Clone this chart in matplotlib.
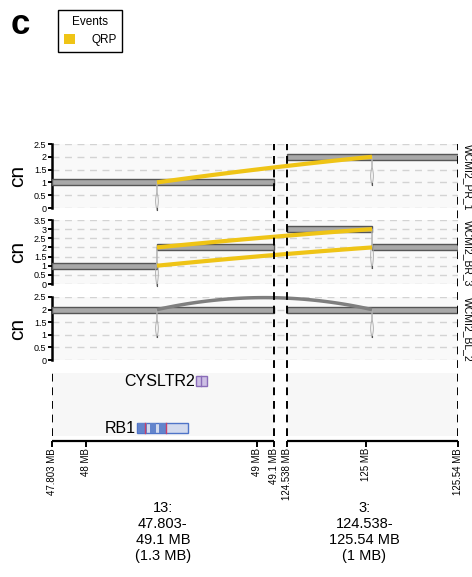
import matplotlib
matplotlib.use("Agg")
import matplotlib.pyplot as plt
from matplotlib.patches import Rectangle, Patch
import numpy as np

plt.rcParams['font.family'] = ['Liberation Sans', 'DejaVu Sans']

# windows (MB)
win_chrom = ['13', '3']
win_start = [47.803, 124.538]
win_end = [49.1, 125.54]
win_labels = ['13:\n47.803-\n49.1 MB\n(1.3 MB)', '3:\n124.538-\n125.54 MB\n(1 MB)']
GAP = 0.076

samples = ['WCMI2_PR_1', 'WCMI2_BR_3', 'WCMI2_BL_2']
ymax = [2.5, 3.5, 2.5]

# copy number segments: (chrom, start, end, cn)
segments = [
    [('13', 47.803, 49.1, 1), ('3', 124.538, 125.54, 2)],
    [('13', 47.803, 48.417, 1), ('13', 48.417, 49.1, 2),
     ('3', 124.538, 125.037, 3), ('3', 125.037, 125.54, 2)],
    [('13', 47.803, 49.1, 2), ('3', 124.538, 125.54, 2)],
]

bp1 = ('13', 48.417)
bp2 = ('3', 125.037)
# junctions: (cn at bp1, cn at bp2, event)
junctions = [
    [(1, 2, 'QRP')],
    [(2, 3, 'QRP'), (1, 2, 'QRP')],
    [(2, 2, None)],
]
# breakpoint stubs: (chrom, pos, top, bottom)
stubs = [
    [('13', 48.417, 1, -0.08), ('3', 125.037, 2, 0.9)],
    [('13', 48.417, 2, -0.1), ('3', 125.037, 3, 0.85)],
    [('13', 48.417, 2, 0.9), ('3', 125.037, 2, 0.9)],
]

genes = ['CYSLTR2', 'RB1']
gene_start = [48.646, 48.300]
gene_end = [48.710, 48.599]
gene_row = [1, 0]

xticks_pos = [('13', 47.803), ('13', 48.0), ('13', 49.0), ('13', 49.1),
              ('3', 124.538), ('3', 125.0), ('3', 125.54)]
xticks_lab = ['47.803 MB', '48 MB', '49 MB', '49.1 MB', '124.538 MB', '125 MB', '125.54 MB']

yellow = '#efc416'


def gx(chrom, pos):
    if chrom == win_chrom[0]:
        return pos
    return pos - win_start[1] + win_end[0] + GAP


XMIN = gx('13', win_start[0])
XMAX = gx('3', win_end[1])


def bezier(x0, y0, x1, y1, bump):
    t = np.linspace(0, 1, 100)
    cx, cy = (x0 + x1) / 2, (y0 + y1) / 2 + bump
    x = (1 - t) ** 2 * x0 + 2 * t * (1 - t) * cx + t ** 2 * x1
    y = (1 - t) ** 2 * y0 + 2 * t * (1 - t) * cy + t ** 2 * y1
    return x, y


W, H = 472, 577
fig = plt.figure(figsize=(W / 100, H / 100), dpi=100)


def rect(top, bottom):
    return [52 / W, 1 - bottom / H, 406 / W, (bottom - top) / H]


panel_px = [(144, 208), (220, 284), (297, 360)]
axes = []
for i, s in enumerate(samples):
    ax = fig.add_axes(rect(*panel_px[i]))
    axes.append(ax)
    ax.set_facecolor('#f9f9f9')
    ax.set_xlim(XMIN, XMAX)
    ax.set_ylim(0, ymax[i])
    yt = np.arange(0, ymax[i] + 0.01, 0.5)
    ax.set_yticks(yt)
    ax.set_yticklabels(['%g' % v for v in yt], fontsize=6.5)
    for v in yt:
        ax.axhline(v, color='#d3d3d3', lw=1, ls=(0, (5, 4)), zorder=0)
    ax.set_xticks([])
    for sp in ['top', 'right', 'bottom']:
        ax.spines[sp].set_visible(False)
    ax.spines['left'].set_linewidth(1.8)
    ax.tick_params(axis='y', length=3, width=1.4, pad=1)
    ax.set_ylabel('cn', fontsize=15, labelpad=5)
    pxu = (panel_px[i][1] - panel_px[i][0]) / ymax[i]
    bh = 6 / pxu
    for chrom, a, b, cn in segments[i]:
        ax.add_patch(Rectangle((gx(chrom, a), cn - bh / 2), gx(chrom, b) - gx(chrom, a), bh,
                               facecolor='#a8a8a8', edgecolor='#555555', lw=1, zorder=3))
    for chrom, p, top, bot in stubs[i]:
        x = gx(chrom, p)
        t = np.linspace(0, 1, 60)
        s_ = np.clip((t - 0.35) / 0.65, 0, 1)
        w = 0.008 * np.sin(np.pi * s_)
        yy = top + (bot - top) * t
        ax.plot(x + w, yy, color='#b0b0b0', lw=0.7, zorder=4, clip_on=False)
        ax.plot(x - w, yy, color='#b0b0b0', lw=0.7, zorder=4, clip_on=False)
        ax.plot([x, x], [bot + 0.06 * (top - bot), bot], color='#555555', lw=0.8, zorder=4, clip_on=False)
    for c1, c2, ev in junctions[i]:
        x0, x1 = gx(*bp1), gx(*bp2)
        if ev == 'QRP':
            xs, ys = bezier(x0, c1, x1, c2, 0.08)
            ax.plot(xs, ys, color=yellow, lw=3, solid_capstyle='butt', zorder=5, clip_on=False)
        else:
            xs, ys = bezier(x0, c1, x1, c2, 0.95)
            ax.plot(xs, ys, color='#7f7f7f', lw=2.5, solid_capstyle='butt', zorder=5, clip_on=False)
    fig.text(463 / W, 1 - panel_px[i][0] / H, s, rotation=270, ha='left', va='top', fontsize=7.5)

# gene track
gax = fig.add_axes(rect(373, 441))
gax.set_xlim(XMIN, XMAX)
gax.set_ylim(0, 1)
gax.patch.set_visible(False)
for sp in ['top', 'right', 'left', 'bottom']:
    gax.spines[sp].set_visible(False)
gax.set_yticks([])
for k in range(2):
    a, b = gx(win_chrom[k], win_start[k]), gx(win_chrom[k], win_end[k])
    gax.add_patch(Rectangle((a, 0.08), b - a, 0.92, facecolor='#f7f7f7', edgecolor='none', zorder=0))
    gax.plot([a, b], [0, 0], color='black', lw=1.6, clip_on=False, solid_capstyle='butt')
gene_y = [0.19, 0.88]
for name, a, b, r in zip(genes, gene_start, gene_end, gene_row):
    y = gene_y[r]
    h = 0.14
    if name == 'RB1':
        gax.add_patch(Rectangle((a, y - h / 2), b - a, h, facecolor='#d2daee', edgecolor='#4f74c8', lw=1, zorder=3))
        for ea, eb in [(a + 0.005, a + 0.06), (a + 0.075, a + 0.11), (a + 0.13, a + 0.175)]:
            gax.add_patch(Rectangle((ea, y - h / 2), eb - ea, h, facecolor='#6384cc', edgecolor='none', zorder=4))
        for xr in [a + 0.045, a + 0.17]:
            gax.plot([xr, xr], [y - h / 2, y + h / 2], color='#c8406a', lw=1, zorder=5)
    else:
        gax.add_patch(Rectangle((a, y - h / 2), b - a, h, facecolor='#cdbfe4', edgecolor='#8a6cb8', lw=1, zorder=3))
        gax.plot([a + 0.03, a + 0.03], [y - h / 2, y + h / 2], color='#8a6cb8', lw=1, zorder=4)
    gax.text(a - 0.008, y, name, ha='right', va='center', fontsize=11.5)

gax.set_xticks([gx(c, p) for c, p in xticks_pos])
gax.set_xticklabels(xticks_lab, rotation=90, fontsize=7)
gax.tick_params(axis='x', length=4, width=1.4, pad=1)

label_shift = [0, -8]
for k in range(2):
    mid = (gx(win_chrom[k], win_start[k]) + gx(win_chrom[k], win_end[k])) / 2
    mid += label_shift[k] / (406 / (XMAX - XMIN))
    gax.text(mid, -0.88, win_labels[k], ha='center', va='top', fontsize=10.5,
             transform=gax.transData, linespacing=1.2)

# window boundary lines across all tracks
over = fig.add_axes([52 / W, 1 - 436 / H, 406 / W, (436 - 144) / H])
over.set_xlim(XMIN, XMAX)
over.set_ylim(0, 1)
over.axis('off')
for xv in [gx('13', win_end[0]), gx('3', win_start[1]), gx('3', win_end[1])]:
    over.plot([xv, xv], [0, 1], color='black', lw=1.4, ls=(0, (4, 3)))
over.plot([XMIN, XMIN], [0, (436 - 373) / (436 - 144)], color='black', lw=1.4, ls=(0, (4, 3)))

fig.text(11 / W, 1 - 25 / H, 'c', fontsize=25, fontweight='bold', ha='left', va='center')
fig.legend(handles=[Patch(facecolor=yellow, edgecolor='none', label='QRP')], title='Events',
           loc='upper left', bbox_to_anchor=(58 / W, 1 - 10 / H), frameon=True, fancybox=False,
           edgecolor='black', fontsize=8.5, title_fontsize=8.5, handlelength=0.9, handleheight=0.9,
           borderpad=0.5, handletextpad=1.4, borderaxespad=0, framealpha=1)

fig.savefig('out.png', dpi=100)
